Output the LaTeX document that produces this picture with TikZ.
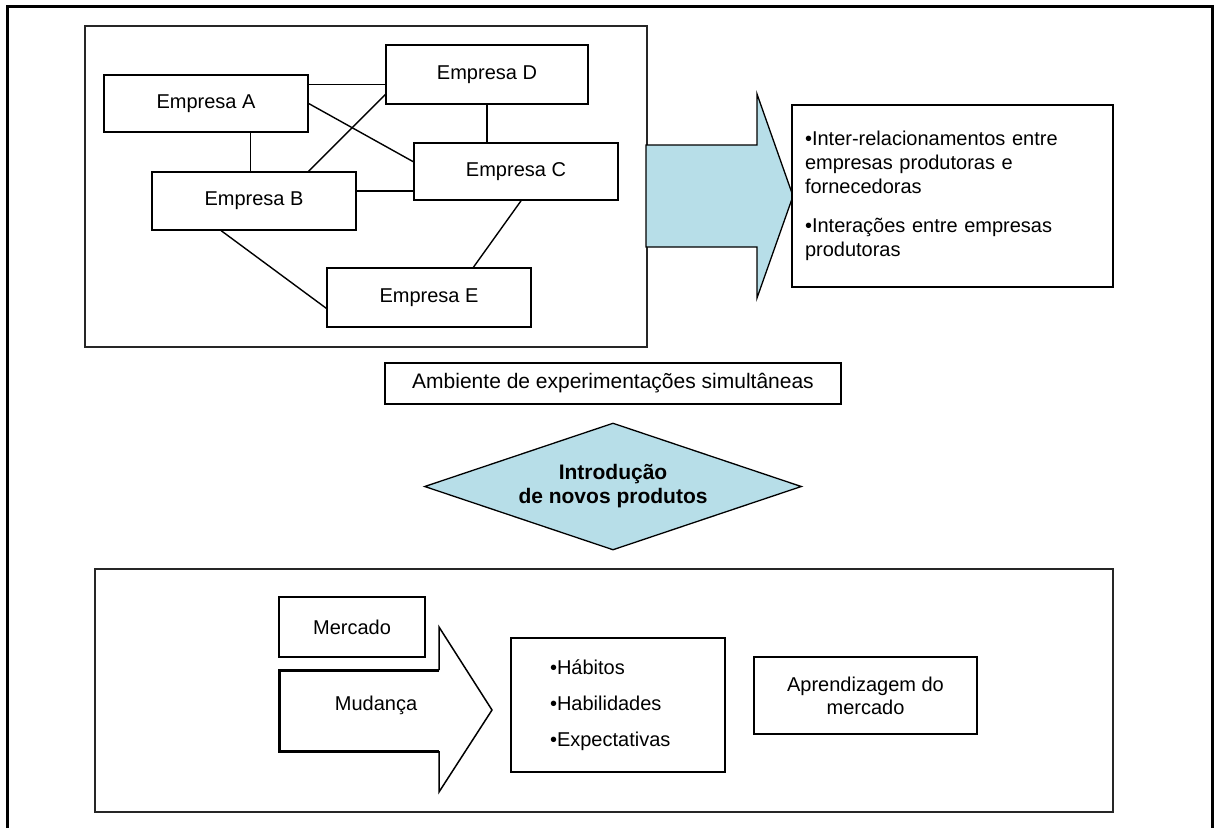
\documentclass[tikz,border=0pt]{standalone}
\usepackage{fontspec}
\setmainfont{Liberation Sans}
\usetikzlibrary{shapes.geometric,calc}
\definecolor{shaftblue}{RGB}{183,222,232}
\begin{document}
\begin{tikzpicture}[x=1pt,y=-1pt,
  box/.style={draw=black, line width=1.3pt, fill=white, inner sep=0pt,
    align=center, font=\fontsize{20}{24}\selectfont},
  txt/.style={inner sep=0pt, align=center, font=\fontsize{20}{24}\selectfont},
  link/.style={draw=black, line width=1.4pt},
  panel/.style={draw=black!85, line width=1.3pt, inner sep=0pt},
  bluearrow/.style={draw=black, line width=1.3pt, fill=shaftblue, line join=miter},
]
\useasboundingbox (0,0) rectangle (1214,828);

% outer frame, open at the bottom
\draw[line width=3pt] (7.5,828) -- (7.5,6.5) -- (1212,6.5) -- (1212,828);

% upper panel with the five firms
\node[panel, minimum width=562pt, minimum height=321pt] (net) at (366,186.5) {};

\node[box, minimum width=204pt, minimum height=57pt] (A) at (206,103.5) {Empresa A};
\node[box, minimum width=202pt, minimum height=59pt] (D) at (487,74.5) {Empresa D};
\node[box, minimum width=204pt, minimum height=57pt] (C) at (516,171.5) {Empresa C};
\node[box, minimum width=204pt, minimum height=58pt] (B) at (254,201) {Empresa B};
\node[box, minimum width=204pt, minimum height=59pt] (E) at (429,297.5) {Empresa E};

% links between the firms
\coordinate (ad) at ($(A.north east)!0.175!(A.south east)$);
\draw[link] (ad) -- (ad -| D.west);
\draw[link] (A.east) -- ($(C.north west)!0.333!(C.south west)$);
\coordinate (ab) at ($(A.south west)!0.716!(A.south east)$);
\draw[link] (ab) -- (ab |- B.north);
\draw[link] ($(B.north west)!0.765!(B.north east)$) -- ($(D.north west)!0.83!(D.south west)$);
\coordinate (bc) at ($(B.north east)!0.33!(B.south east)$);
\draw[link] (bc) -- (bc -| C.west);
\draw[link] (D.south) -- (D.south |- C.north);
\draw[link] ($(B.south west)!0.34!(B.south east)$) -- ($(E.north west)!0.68!(E.south west)$);
\draw[link] ($(C.south west)!0.525!(C.south east)$) -- ($(E.north west)!0.716!(E.north east)$);

% blue block arrow towards the relations box
\draw[bluearrow] (646,145) -- (757,145) -- (757,94) -- (793,196) -- (757,298)
  -- (757,247) -- (646,247) -- cycle;

\node[box, minimum width=321pt, minimum height=182pt, text width=295pt, align=left]
  (rel) at (952.5,196)
  {•Inter-relacionamentos entre\\ empresas produtoras e\\ fornecedoras\\[15pt]
   •Interações entre empresas\\ produtoras};

% caption box and diamond
\node[box, font=\fontsize{21}{25}\selectfont, minimum width=456pt, minimum height=41pt]
  (amb) at (613,383.5) {Ambiente de experimentações simultâneas};

\node[draw=black, diamond, fill=shaftblue, line width=1.3pt, aspect=2.97,
  minimum width=377pt, minimum height=127pt, inner sep=0pt, align=center,
  font=\bfseries\fontsize{21}{24}\selectfont]
  (intro) at (613,486.5) {Introdução\\de novos produtos};

% lower panel: the market
\node[panel, minimum width=1018pt, minimum height=243pt] (mkt) at (604,690.5) {};

\node[box, minimum width=146pt, minimum height=60pt] (merc) at (352,627) {Mercado};

% white block arrow with heavy shaft
\fill[white] (279,670) -- (439,670) -- (439,627) -- (492,710) -- (439,792)
  -- (439,751) -- (279,751) -- cycle;
\draw[line width=3pt, line join=miter] (439,670) -- (279,670) -- (279,751) -- (439,751);
\draw[line width=1.5pt, line join=miter] (439,670) -- (439,627) -- (492,710)
  -- (439,792) -- (439,751);
\node[txt] (mud) at (376,705) {Mudança};

\node[box, minimum width=214pt, minimum height=134pt, text width=136pt, align=left]
  (hab) at (618,705) {•Hábitos\\[12pt] •Habilidades\\[12pt] •Expectativas};

\node[box, minimum width=223pt, minimum height=77pt, font=\fontsize{20}{23}\selectfont]
  (apr) at (865.5,695.5) {Aprendizagem do\\mercado};
\end{tikzpicture}
\end{document}
